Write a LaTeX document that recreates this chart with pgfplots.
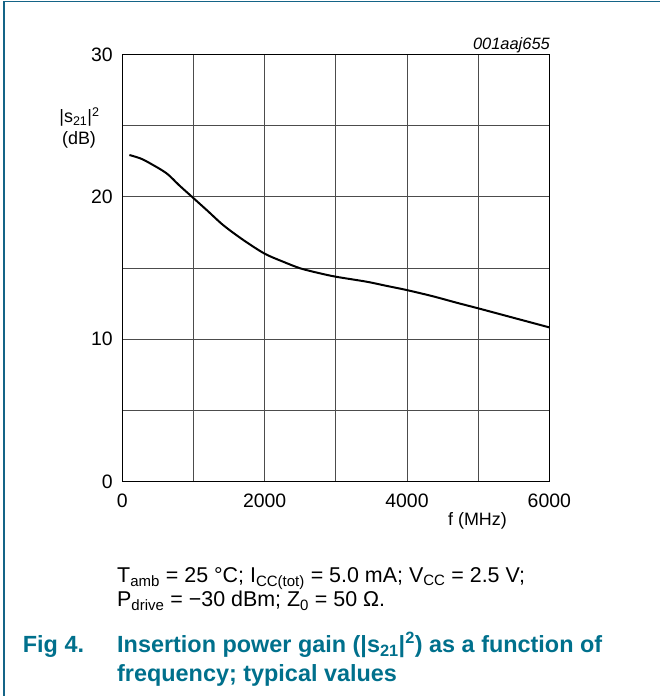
\documentclass[border=0pt]{standalone}
\usepackage{pgfplots}
\pgfplotsset{compat=1.18}
\usepackage{fontspec}
\setmainfont{Liberation Sans}
\definecolor{nxpteal}{RGB}{0,112,140}
\definecolor{framecol}{RGB}{20,100,135}
\begin{document}
\begin{tikzpicture}[x=1bp,y=1bp]
\path[use as bounding box] (0,0) rectangle (660,696);
\draw[framecol, line width=1.2bp] (4,0) -- (4,694.5) -- (660,694.5);
\begin{axis}[
  at={(122.3bp,214.6bp)}, anchor=south west,
  scale only axis, width=427bp, height=427bp,
  xmin=0, xmax=6000, ymin=0, ymax=30,
  xtick={0,2000,4000,6000},
  minor xtick={1000,3000,5000},
  ytick={0,10,20,30},
  minor ytick={5,15,25},
  grid=both,
  major grid style={black!70, line width=0.7bp},
  minor grid style={black!70, line width=0.7bp},
  major tick length=0pt, minor tick length=0pt,
  axis line style={black, line width=0.9bp},
  /pgf/number format/assume math mode=true,
  /pgf/number format/1000 sep={},
  tick label style={font=\fontsize{19.5}{21}\selectfont},
  xticklabel style={yshift=-9bp},
  yticklabel style={xshift=-6bp},
  clip=false,
]
\addplot[black, line width=2bp, smooth] coordinates {
(100,22.93) (250,22.7) (389,22.35) (623,21.64) (800,20.8) (1000,19.9)
(1200,19.0) (1419,18.0) (1700,16.96) (2000,16.0) (2262,15.43) (2500,14.97)
(2750,14.65) (3000,14.38) (3432,14.03) (3700,13.75) (4000,13.44)
(4368,13.0) (4700,12.55) (5000,12.16) (5492,11.5) (6000,10.82)
};
\end{axis}
\node[anchor=base east, inner sep=0pt, font=\itshape\fontsize{16.5}{18}\selectfont] at (550,646) {001aaj655};
\node[anchor=base, inner sep=0pt, font=\fontsize{18}{21}\selectfont] at (79.5,573) {|s\textsubscript{21}|\textsuperscript{2}};
\node[anchor=base, inner sep=0pt, font=\fontsize{18}{21}\selectfont] at (79,551) {(dB)};
\node[font=\fontsize{18}{20}\selectfont] at (477.5,175) {f (MHz)};
\node[anchor=base west, inner sep=0pt, font=\fontsize{21.5}{24}\selectfont] at (117,113.7) {T\textsubscript{amb} = 25 °C; I\textsubscript{CC(tot)} = 5.0 mA; V\textsubscript{CC} = 2.5 V;};
\node[anchor=base west, inner sep=0pt, font=\fontsize{21.5}{24}\selectfont] at (117,89.3) {P\textsubscript{drive} = −30 dBm; Z\textsubscript{0} = 50 Ω.};
\node[anchor=base west, inner sep=0pt, text=nxpteal, font=\bfseries\fontsize{23.5}{27}\selectfont] at (22.7,43.3) {Fig 4.};
\node[anchor=base west, inner sep=0pt, text=nxpteal, font=\bfseries\fontsize{23.5}{27}\selectfont] at (117,43.3) {Insertion power gain (|s\textsubscript{21}|\textsuperscript{2}) as a function of};
\node[anchor=base west, inner sep=0pt, text=nxpteal, font=\bfseries\fontsize{23.5}{27}\selectfont] at (117,14) {frequency; typical values};
\end{tikzpicture}
\end{document}
